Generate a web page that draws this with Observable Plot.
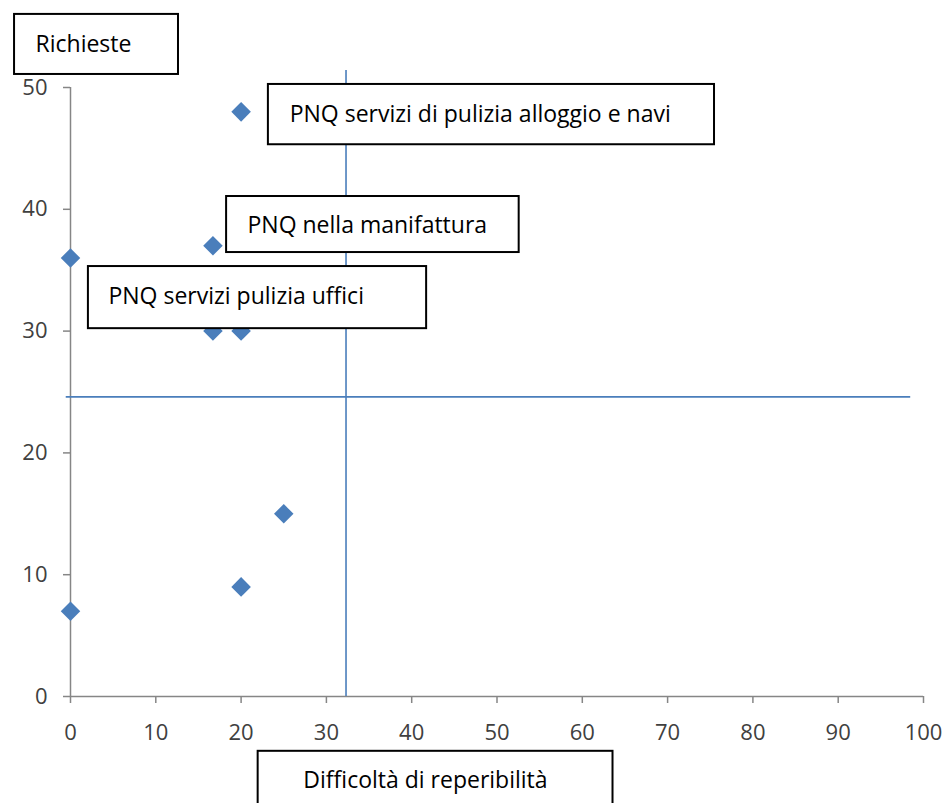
<!DOCTYPE html>
<html>
<head>
<meta charset="utf-8">
<script src="https://cdn.jsdelivr.net/npm/d3@7"></script>
<script src="https://cdn.jsdelivr.net/npm/@observablehq/plot@0.6"></script>
<style>
  html, body { margin: 0; padding: 0; background: #fff; }
  #chart svg { display: block; }
</style>
</head>
<body>
<div id="chart"></div>
<script>
// Series values
const difficolta = [0, 0, 16.7, 20, 16.7, 20, 25, 20];
const richieste  = [36, 7, 37, 48, 30, 30, 15, 9];

// Reference (quadrant) lines
const refDifficolta = 32.3;
const refRichieste = 24.6;
const refVertSpan = [0, 51.4];
const refHorizSpan = [-0.5, 98.5];

// Tick labels
const xTicks = [0, 10, 20, 30, 40, 50, 60, 70, 80, 90, 100];
const yTicks = [0, 10, 20, 30, 40, 50];

// Text annotations (boxed labels), positioned in data units
const annText = ["Richieste", "PNQ servizi di pulizia alloggio e navi", "PNQ nella manifattura", "PNQ servizi pulizia uffici", "Difficoltà di reperibilità"];
const annX  = [-4.1, 25.7, 20.75, 4.45, 27.3];
const annY  = [53.5, 47.8, 38.7, 32.8, -6.9];
const boxX1 = [-6.56, 23.2, 18.3, 2.1, 22.0];
const boxX2 = [12.66, 75.5, 52.6, 41.75, 63.6];
const boxY1 = [51.07, 45.3, 36.45, 30.2, -9.5];
const boxY2 = [56.0, 50.25, 41.05, 35.3, -4.5];

const points = difficolta.map((d, i) => ({x: d, y: richieste[i]}));
const anns = annText.map((t, i) => ({text: t, x: annX[i], y: annY[i], x1: boxX1[i], x2: boxX2[i], y1: boxY1[i], y2: boxY2[i]}));

const blue = "#4a7ebb";
const axisGray = "#868686";
const font = "'Open Sans', 'Noto Sans', sans-serif";

const chart = Plot.plot({
  width: 946,
  height: 803,
  marginLeft: 70,
  marginRight: 23,
  marginTop: 87,
  marginBottom: 107,
  style: {fontFamily: font, background: "white", overflow: "hidden"},
  x: {domain: [0, 100], ticks: xTicks},
  y: {domain: [0, 50], ticks: yTicks},
  marks: [
    Plot.ruleY([0], {x1: 0, x2: 100, stroke: axisGray, strokeWidth: 1.5}),
    Plot.ruleX([0], {y1: 0, y2: 50, stroke: axisGray, strokeWidth: 1.5}),
    Plot.axisX({ticks: xTicks, tickSize: 7, tickPadding: 21, stroke: axisGray, strokeWidth: 1.5, fill: "#404040", fontSize: 22, label: null, strokeOpacity: 1}),
    Plot.axisY({ticks: yTicks, tickSize: 7, tickPadding: 16, stroke: axisGray, strokeWidth: 1.5, fill: "#404040", fontSize: 22, label: null, strokeOpacity: 1}),
    Plot.ruleX([refDifficolta], {y1: refVertSpan[0], y2: refVertSpan[1], stroke: blue, strokeWidth: 1.6}),
    Plot.ruleY([refRichieste], {x1: refHorizSpan[0], x2: refHorizSpan[1], stroke: blue, strokeWidth: 1.6}),
    Plot.dot(points, {x: "x", y: "y", symbol: "diamond2", r: 8.8, fill: blue, stroke: "none"}),
    Plot.rect(anns, {x1: "x1", x2: "x2", y1: "y1", y2: "y2", fill: "white", stroke: "black", strokeWidth: 2}),
    Plot.text(anns, {x: "x", y: "y", text: "text", textAnchor: "start", fontSize: 23, fill: "black"})
  ]
});

document.getElementById("chart").appendChild(chart);
</script>
</body>
</html>
